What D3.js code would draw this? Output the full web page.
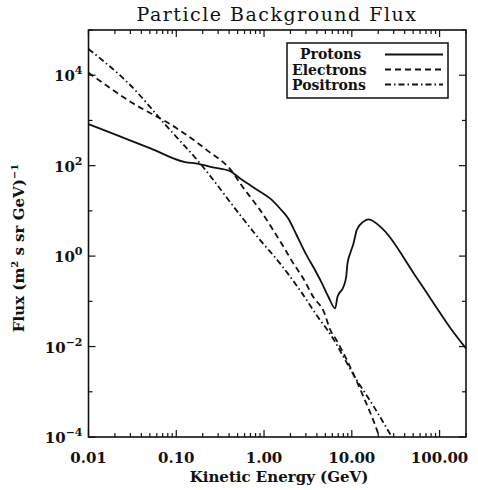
<!DOCTYPE html>
<html>
<head>
<meta charset="utf-8">
<script src="https://cdn.jsdelivr.net/npm/d3@7"></script>
<style>
  body { margin: 0; background: #fff; }
  text { font-family: "DejaVu Serif", "Liberation Serif", serif; fill: #111; }
</style>
</head>
<body>
<svg id="chart"></svg>
<script>
// energies (GeV) and flux values
const protonE = [0.01, 0.02, 0.05, 0.126, 0.18, 0.24, 0.41, 0.534, 0.695, 0.903, 1.17, 1.52, 1.89, 2.16, 2.56, 3.05, 3.63, 4.57, 5.41, 6.47,
                 6.87, 8.04, 8.63, 8.93, 9.59, 10.45, 11.4, 13.6, 15.5, 23, 50.6, 85.5, 132, 200];
const protonF = [830, 490, 245, 120, 110, 95, 76, 52, 37, 26.5, 18.9, 11.3, 6.8, 4.1, 2.07, 1.05, 0.58, 0.25, 0.126, 0.070,
                 0.126, 0.21, 0.35, 0.69, 1.15, 1.9, 3.8, 5.8, 6.5, 3.8, 0.42, 0.091, 0.026, 0.0091];

const electronE = [0.01, 0.03, 0.1, 0.223, 0.448, 0.534, 0.695, 0.903, 1.27, 1.67, 2.16, 2.8, 3.63, 4.8, 5.7, 6.7, 8.8, 13.6, 19.4, 20.6];
const electronF = [11400, 2600, 680, 221, 68, 40.5, 20.5, 10.4, 3.76, 1.6, 0.69, 0.32, 0.126, 0.059, 0.023, 0.0138, 0.005, 7.7e-4, 1.4e-4, 1e-4];

const positronE = [0.01, 0.03, 0.08, 0.187, 0.534, 0.903, 1.52, 2.56, 4.37, 5.3, 11.4, 17.8, 28.6];
const positronF = [38000, 6000, 700, 112, 8.1, 2.26, 0.69, 0.177, 0.038, 0.023, 0.0018, 4.7e-4, 1e-4];

const xTicks = [0.01, 0.1, 1, 10, 100];
const yTickExp = [-4, -2, 0, 2, 4];
const seriesNames = ["Protons", "Electrons", "Positrons"];

const width = 478, height = 490;
const margin = {top: 30, right: 12, bottom: 53, left: 88.5};
const innerW = width - margin.left - margin.right;
const innerH = height - margin.top - margin.bottom;

const svg = d3.select("#chart").attr("width", width).attr("height", height);
const g = svg.append("g").attr("transform", `translate(${margin.left},${margin.top})`);

const x = d3.scaleLog().domain([0.01, 200]).range([0, innerW]);
const y = d3.scaleLog().domain([1e-4, 1e5]).range([innerH, 0]);

// frame
g.append("rect")
    .attr("width", innerW).attr("height", innerH)
    .attr("fill", "none").attr("stroke", "#111").attr("stroke-width", 1.6);

// x ticks (bottom and top), majors at decades, minors 2..9
const xMinor = [];
xTicks.forEach(d => { for (let k = 2; k <= 9; k++) if (d * k <= 200) xMinor.push(d * k); });
const tickG = g.append("g").attr("stroke", "#111").attr("stroke-width", 1.2);
xTicks.forEach(d => {
    tickG.append("line").attr("x1", x(d)).attr("x2", x(d)).attr("y1", innerH).attr("y2", innerH - 7);
    tickG.append("line").attr("x1", x(d)).attr("x2", x(d)).attr("y1", 0).attr("y2", 7);
});
xMinor.forEach(d => {
    tickG.append("line").attr("x1", x(d)).attr("x2", x(d)).attr("y1", innerH).attr("y2", innerH - 4);
    tickG.append("line").attr("x1", x(d)).attr("x2", x(d)).attr("y1", 0).attr("y2", 4);
});

// y ticks every decade, long on labelled ones
d3.range(-4, 6).forEach(e => {
    const len = yTickExp.includes(e) ? 7 : 4;
    tickG.append("line").attr("x1", 0).attr("x2", len).attr("y1", y(10 ** e)).attr("y2", y(10 ** e));
    tickG.append("line").attr("x1", innerW).attr("x2", innerW - len).attr("y1", y(10 ** e)).attr("y2", y(10 ** e));
});

// tick labels
xTicks.forEach(d => {
    g.append("text")
        .attr("x", x(d)).attr("y", innerH + 26)
        .attr("text-anchor", "middle")
        .style("font-size", "15px").style("font-weight", "bold")
        .text(d3.format(".2f")(d));
});
yTickExp.forEach(e => {
    const t = g.append("text")
        .attr("x", -6).attr("y", y(10 ** e) + 6)
        .attr("text-anchor", "end")
        .style("font-size", "15px").style("font-weight", "bold");
    t.append("tspan").text("10");
    t.append("tspan").attr("dy", -7).style("font-size", "11px").text(e < 0 ? "\u2212" + (-e) : e);
});

// curves
const line = d3.line()
    .x(d => x(d[0]))
    .y(d => y(d[1]))
    .curve(d3.curveMonotoneX);
const series = [
    {name: seriesNames[0], data: d3.zip(protonE, protonF), dash: null},
    {name: seriesNames[1], data: d3.zip(electronE, electronF), dash: "6,4"},
    {name: seriesNames[2], data: d3.zip(positronE, positronF), dash: "6,3,1.5,3"}
];
g.append("defs").append("clipPath").attr("id", "clip")
    .append("rect").attr("width", innerW).attr("height", innerH);
g.append("g").attr("clip-path", "url(#clip)")
    .selectAll("path")
    .data(series)
    .join("path")
    .attr("d", d => line(d.data))
    .attr("fill", "none")
    .attr("stroke", "#111")
    .attr("stroke-width", 1.8)
    .attr("stroke-dasharray", d => d.dash);

// legend
const lg = svg.append("g").attr("transform", "translate(287,43)");
lg.append("rect").attr("width", 161).attr("height", 55)
    .attr("fill", "#fff").attr("stroke", "#111").attr("stroke-width", 1.5);
series.forEach((s, i) => {
    lg.append("text")
        .attr("x", i === 0 ? 13 : 5).attr("y", 16 + i * 15.5)
        .style("font-size", "14px").style("font-weight", "bold")
        .text(s.name);
    lg.append("line")
        .attr("x1", 98).attr("x2", 156)
        .attr("y1", 11.5 + i * 15).attr("y2", 11.5 + i * 15)
        .attr("stroke", "#111").attr("stroke-width", 1.8)
        .attr("stroke-dasharray", s.dash);
});

// titles
svg.append("text")
    .attr("x", 277).attr("y", 21)
    .attr("text-anchor", "middle")
    .style("font-size", "19px").style("letter-spacing", "1.5px")
    .text("Particle Background Flux");

svg.append("text")
    .attr("x", 279).attr("y", 482)
    .attr("text-anchor", "middle")
    .style("font-size", "15px").style("font-weight", "bold")
    .text("Kinetic Energy (GeV)");

const yl = svg.append("text")
    .attr("transform", "translate(24,248) rotate(-90)")
    .attr("text-anchor", "middle")
    .style("font-size", "15px").style("font-weight", "bold");
yl.append("tspan").text("Flux (m");
yl.append("tspan").attr("dy", -6).style("font-size", "10px").text("2");
yl.append("tspan").attr("dy", 6).text(" s sr GeV)");
yl.append("tspan").attr("dy", -6).style("font-size", "10px").text("\u22121");
</script>
</body>
</html>
